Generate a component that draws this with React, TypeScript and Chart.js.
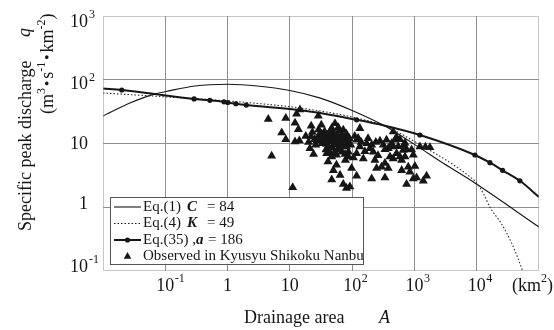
import React, { useEffect, useRef } from "react";
import { Chart, registerables } from "chart.js";

Chart.register(...registerables);

// Eq.(1), rational formula with C = 84
const eq1Area = [0.01, 0.027, 0.068, 0.1, 0.3, 1, 3, 10, 30, 100, 336, 1000, 3000, 9350, 100000];
const eq1Q = [27, 43, 60, 65, 80, 85, 80, 68, 52, 33, 18.8, 9.7, 4.8, 2.4, 0.49];

// Eq.(4), K = 49
const eq4Area = [0.01, 0.1, 1, 10, 30, 100, 336, 1000, 1740, 4000, 7800, 10000, 13000, 16300, 25000, 36000, 47000, 57000];
const eq4Q = [62, 54, 46.5, 37.8, 32.5, 26, 18.8, 10.8, 7.9, 4.8, 3.0, 2.4, 1.6, 1.0, 0.55, 0.28, 0.15, 0.09];

// Eq.(35), a = 186; marked entries are the basins plotted with a dot
const eq35Area = [0.01, 0.02, 0.29, 0.52, 0.875, 1.01, 1.36, 2.0, 14.5, 118, 336, 1225, 9350, 16300, 26000, 49300, 100000];
const eq35Q = [73, 69, 50, 47.6, 45, 44, 42, 40, 33.5, 23.5, 19, 13.6, 6.6, 5.0, 3.8, 2.6, 1.45];
const eq35Marked = [false, true, true, true, true, true, true, true, false, true, false, true, true, true, true, true, false];

// Observed peaks, Kyusyu Shikoku Nanbu
const obsArea = [
  4.5, 8.6, 14.5, 12.8, 28.6, 12.1, 13.7, 7.4, 8.6, 12.1, 14.2, 5.1, 11.1, 22, 32, 53, 60, 47, 72, 81,
  22, 25, 28.6, 32, 37, 41, 34, 39, 47, 53, 64, 70, 77, 81, 87, 21, 24, 39, 47, 56,
  68, 77, 87, 41, 56, 50, 47, 64, 72, 81, 92, 98, 118, 125, 133, 118, 151, 171, 193, 206,
  218, 232, 247, 206, 297, 316, 336, 357, 380, 405, 380, 336, 457, 486, 517, 585, 622, 662, 457, 517,
  705, 748, 796, 847, 958, 1018, 1083, 748, 958, 1225, 1387, 1567, 1774, 133, 118,
  30, 35, 40, 45, 50, 55, 60, 33, 42, 48, 38, 65, 75, 85, 90, 52, 58, 44, 27, 62,
  452, 703, 585, 336, 624, 1500,
  18, 20, 23, 26, 29, 31, 36, 38, 43, 46, 49, 51, 54, 57, 63, 66, 69, 74, 78, 83,
  95, 105, 110, 140, 160, 180, 240, 260, 280, 430, 550, 680, 900,
];
const obsQ = [
  24, 25, 34, 29, 27, 21, 16.7, 14.8, 11.6, 10.7, 11.1, 6.4, 2.05, 18.8, 19.5, 20.7, 17.9, 17.3, 16.3, 14.1,
  12.8, 11.6, 12.8, 14.1, 12.8, 11.6, 10.7, 9.8, 10.7, 9.5, 11.4, 9.8, 12.1, 8.9, 7.4, 8.4, 6.8, 7.0, 6.2, 6.6,
  7.4, 6.8, 6.2, 5.2, 4.6, 3.8, 2.7, 3.2, 2.3, 2.0, 2.1, 4.1, 7.0, 12.1, 17.3, 3.1, 5.8, 10.0, 8.4, 9.5,
  7.4, 5.5, 4.1, 2.8, 4.3, 9.5, 8.1, 11.4, 8.4, 6.2, 4.1, 2.9, 15.3, 11.4, 12.5, 11.6, 5.5, 7.9, 5.8, 7.0,
  6.2, 8.1, 4.3, 3.6, 6.6, 4.4, 2.9, 2.3, 2.8, 8.9, 2.6, 3.1, 8.7, 8.9, 11.4,
  14, 12, 13.5, 12, 14.5, 12, 13, 10, 9, 8.5, 11, 9.5, 10.5, 10, 12, 10, 8, 15.5, 11, 16,
  8.9, 10.2, 6.2, 4.9, 3.8, 8.8,
  13, 10.5, 15, 9.5, 16.5, 11.5, 15.5, 8, 7.5, 12.5, 11.5, 7, 13, 10.5, 8.5, 12.5, 13.5, 9, 5.5, 11,
  9.5, 6, 13, 10.5, 7.5, 12, 10.5, 6.5, 11, 10, 9, 9.5, 8,
];

// Axis decades and their labels (base, exponent)
const xDecades = [0.01, 0.1, 1, 10, 100, 1000, 10000, 100000];
const xTickLabels: [string, string][] = [["", ""], ["10", "-1"], ["1", ""], ["10", ""], ["10", "2"], ["10", "3"], ["10", "4"], ["(km", "2"]];
const yDecades = [0.1, 1, 10, 100, 1000];
const yTickLabels: [string, string][] = [["10", "-1"], ["1", ""], ["10", ""], ["10", "2"], ["10", "3"]];

const SERIF = '"Liberation Serif", "DejaVu Serif", "Times New Roman", serif';
const font = (size: number, style = "") => `${style} ${size}px ${SERIF}`.trim();
const INK = "#161616";

// vertical nudges of the y tick labels, bottom to top
const Y_LABEL_NUDGE = [-4, -3, 1, 5, 6];

type Run = { text: string; size: number; style?: string; dy?: number; gap?: number };

function drawRuns(ctx: CanvasRenderingContext2D, runs: Run[], x: number, y: number) {
  let cx = x;
  for (const r of runs) {
    ctx.font = font(r.size, r.style);
    cx += r.gap ?? 0;
    ctx.fillText(r.text, cx, y + (r.dy ?? 0));
    cx += ctx.measureText(r.text).width;
  }
  return cx;
}

const pts = (xs: number[], ys: number[]) => xs.map((x, i) => ({ x, y: ys[i] }));

const framePlugin = {
  id: "frameAndText",
  afterDraw(chart: any) {
    const ctx: CanvasRenderingContext2D = chart.ctx;
    const { left, right, top, bottom } = chart.chartArea;
    const xs = chart.scales.x;
    const ys = chart.scales.y;
    ctx.save();

    // dotted plot frame
    ctx.strokeStyle = "#8c8c8c";
    ctx.lineWidth = 1;
    ctx.setLineDash([1, 1]);
    ctx.strokeRect(left + 0.5, top + 0.5, right - left - 1, bottom - top - 1);
    ctx.setLineDash([]);

    ctx.fillStyle = INK;
    ctx.textBaseline = "middle";
    ctx.textAlign = "left";

    // y tick labels: base right-aligned, exponent after it
    yDecades.forEach((v, i) => {
      const [base, exp] = yTickLabels[i];
      const py = ys.getPixelForValue(v) + Y_LABEL_NUDGE[i];
      ctx.font = font(18);
      const bw = ctx.measureText(base).width;
      ctx.fillText(base, 88 - bw, py);
      if (exp) {
        ctx.font = font(12);
        ctx.fillText(exp, 89, py - 7);
      }
    });

    // x tick labels: base centred on the decade
    xDecades.forEach((v, i) => {
      const [base, exp] = xTickLabels[i];
      if (!base) return;
      const px = xs.getPixelForValue(v);
      const py = 286;
      ctx.font = font(18);
      const bw = ctx.measureText(base).width;
      if (base === "(km") {
        const end = drawRuns(ctx, [{ text: base, size: 18 }, { text: exp, size: 12, dy: -7 }], 512, py);
        ctx.font = font(18);
        ctx.fillText(")", end, py);
        return;
      }
      ctx.fillText(base, px - bw / 2, py);
      if (exp) {
        ctx.font = font(12);
        ctx.fillText(exp, px + bw / 2 + 0.5, py - 7);
      }
    });

    // x axis title
    ctx.font = font(18);
    ctx.fillText("Drainage area", 244, 318);
    ctx.font = font(18, "italic");
    ctx.fillText("A", 379, 318);

    // y axis title (two rotated lines)
    ctx.save();
    ctx.translate(26, 231);
    ctx.rotate(-Math.PI / 2);
    ctx.font = font(18);
    ctx.fillText("Specific peak discharge", 0, 0);
    ctx.font = font(18, "italic");
    ctx.fillText("q", 194, -1);
    ctx.restore();

    ctx.save();
    ctx.translate(48, 114);
    ctx.rotate(-Math.PI / 2);
    const unitRuns: Run[] = [
      { text: "(m", size: 18 },
      { text: "3", size: 12, dy: -6 },
      { text: "•", size: 15, gap: 2 },
      { text: "s", size: 18, gap: 2 },
      { text: "-1", size: 12, dy: -6 },
      { text: "•", size: 15, gap: 2 },
      { text: "km", size: 18, gap: 2 },
      { text: "-2", size: 12, dy: -6 },
      { text: ")", size: 18 },
    ];
    drawRuns(ctx, unitRuns, 0, 0);
    ctx.restore();

    // legend box
    const bx = 110, by = 197, bw = 254, bh = 68;
    ctx.fillStyle = "#ffffff";
    ctx.fillRect(bx, by, bw, bh);
    ctx.strokeStyle = "#555555";
    ctx.lineWidth = 1;
    ctx.strokeRect(bx + 0.5, by + 0.5, bw - 1, bh - 1);

    const rows = [207, 223.5, 240, 256.5];
    const sx0 = 114, sx1 = 141, tx = 143;

    ctx.strokeStyle = INK;
    ctx.fillStyle = INK;
    // Eq.(1)
    ctx.lineWidth = 1.1;
    ctx.beginPath();
    ctx.moveTo(sx0, rows[0]);
    ctx.lineTo(sx1, rows[0]);
    ctx.stroke();
    // Eq.(4)
    ctx.setLineDash([1.5, 2]);
    ctx.beginPath();
    ctx.moveTo(sx0, rows[1]);
    ctx.lineTo(sx1, rows[1]);
    ctx.stroke();
    ctx.setLineDash([]);
    // Eq.(35)
    ctx.lineWidth = 2;
    ctx.beginPath();
    ctx.moveTo(sx0, rows[2]);
    ctx.lineTo(sx1, rows[2]);
    ctx.stroke();
    ctx.beginPath();
    ctx.arc(127.5, rows[2], 2.6, 0, Math.PI * 2);
    ctx.fill();
    // Observed
    const r = 4.4;
    const cy = rows[3];
    ctx.beginPath();
    ctx.moveTo(127.5, cy - r);
    ctx.lineTo(127.5 + r * Math.sin((2 * Math.PI) / 3), cy - r * Math.cos((2 * Math.PI) / 3));
    ctx.lineTo(127.5 - r * Math.sin((2 * Math.PI) / 3), cy - r * Math.cos((2 * Math.PI) / 3));
    ctx.closePath();
    ctx.fill();

    ctx.fillStyle = INK;
    drawRuns(ctx, [{ text: "Eq.(1)", size: 15 }], tx, rows[0]);
    drawRuns(ctx, [{ text: "C", size: 15, style: "italic bold" }], 187, rows[0]);
    drawRuns(ctx, [{ text: "= 84", size: 15 }], 207, rows[0]);
    drawRuns(ctx, [{ text: "Eq.(4)", size: 15 }], tx, rows[1]);
    drawRuns(ctx, [{ text: "K", size: 15, style: "italic bold" }], 187, rows[1]);
    drawRuns(ctx, [{ text: "= 49", size: 15 }], 207, rows[1]);
    const e35 = drawRuns(ctx, [{ text: "Eq.(35) ,", size: 15 }], tx, rows[2]);
    drawRuns(ctx, [{ text: "a", size: 15, style: "italic bold" }], e35, rows[2]);
    drawRuns(ctx, [{ text: "= 186", size: 15 }], 208, rows[2]);
    drawRuns(ctx, [{ text: "Observed in Kyusyu Shikoku Nanbu", size: 15 }], tx, rows[3]);

    ctx.restore();
  },
};

export default function App() {
  const canvasRef = useRef<HTMLCanvasElement | null>(null);

  useEffect(() => {
    const canvas = canvasRef.current;
    if (!canvas) return;
    const interiorX = xDecades.slice(1, -1);
    const interiorY = yDecades.slice(1, -1);

    const chart = new Chart(canvas, {
      type: "scatter",
      data: {
        datasets: [
          {
            label: "Observed in Kyusyu Shikoku Nanbu",
            data: pts(obsArea, obsQ),
            showLine: false,
            pointStyle: "triangle",
            pointRadius: 5.2,
            pointBackgroundColor: INK,
            pointBorderColor: INK,
            pointBorderWidth: 0,
            order: 4,
          },
          {
            label: "Eq.(1) C = 84",
            data: pts(eq1Area, eq1Q),
            showLine: true,
            borderColor: INK,
            borderWidth: 1.1,
            pointRadius: 0,
            cubicInterpolationMode: "monotone",
            order: 3,
          },
          {
            label: "Eq.(4) K = 49",
            data: pts(eq4Area, eq4Q),
            showLine: true,
            borderColor: "#2a2a2a",
            borderWidth: 1.1,
            borderDash: [1.5, 2],
            pointRadius: 0,
            cubicInterpolationMode: "monotone",
            order: 2,
          },
          {
            label: "Eq.(35) ,a = 186",
            data: pts(eq35Area, eq35Q),
            showLine: true,
            borderColor: INK,
            borderWidth: 2,
            pointRadius: (c: any) => (eq35Marked[c.dataIndex] ? 2.6 : 0),
            pointBackgroundColor: INK,
            pointBorderWidth: 0,
            cubicInterpolationMode: "monotone",
            order: 1,
          },
        ] as any,
      },
      options: {
        animation: false,
        responsive: false,
        devicePixelRatio: 1,
        events: [],
        layout: { padding: { left: 103, right: 15, top: 16, bottom: 59 } },
        plugins: { legend: { display: false }, tooltip: { enabled: false } },
        scales: {
          x: {
            type: "logarithmic",
            min: 0.01,
            max: 100000,
            afterBuildTicks: (s: any) => {
              s.ticks = interiorX.map((value) => ({ value }));
            },
            afterFit: (s: any) => {
              s.height = 0;
            },
            ticks: { display: false },
            grid: { color: "#8e8e8e", lineWidth: 1, drawTicks: false },
            border: { display: false },
          },
          y: {
            type: "logarithmic",
            min: 0.1,
            max: 1000,
            afterBuildTicks: (s: any) => {
              s.ticks = interiorY.map((value) => ({ value }));
            },
            afterFit: (s: any) => {
              s.width = 0;
            },
            ticks: { display: false },
            grid: { color: "#8e8e8e", lineWidth: 1, drawTicks: false },
            border: { display: false },
          },
        },
      } as any,
      plugins: [framePlugin],
    });
    return () => chart.destroy();
  }, []);

  return (
    <div style={{ position: "absolute", left: 0, top: 0, width: 554, height: 330, background: "#fff" }}>
      <canvas ref={canvasRef} width={554} height={330} style={{ width: 554, height: 330, display: "block" }} />
    </div>
  );
}
